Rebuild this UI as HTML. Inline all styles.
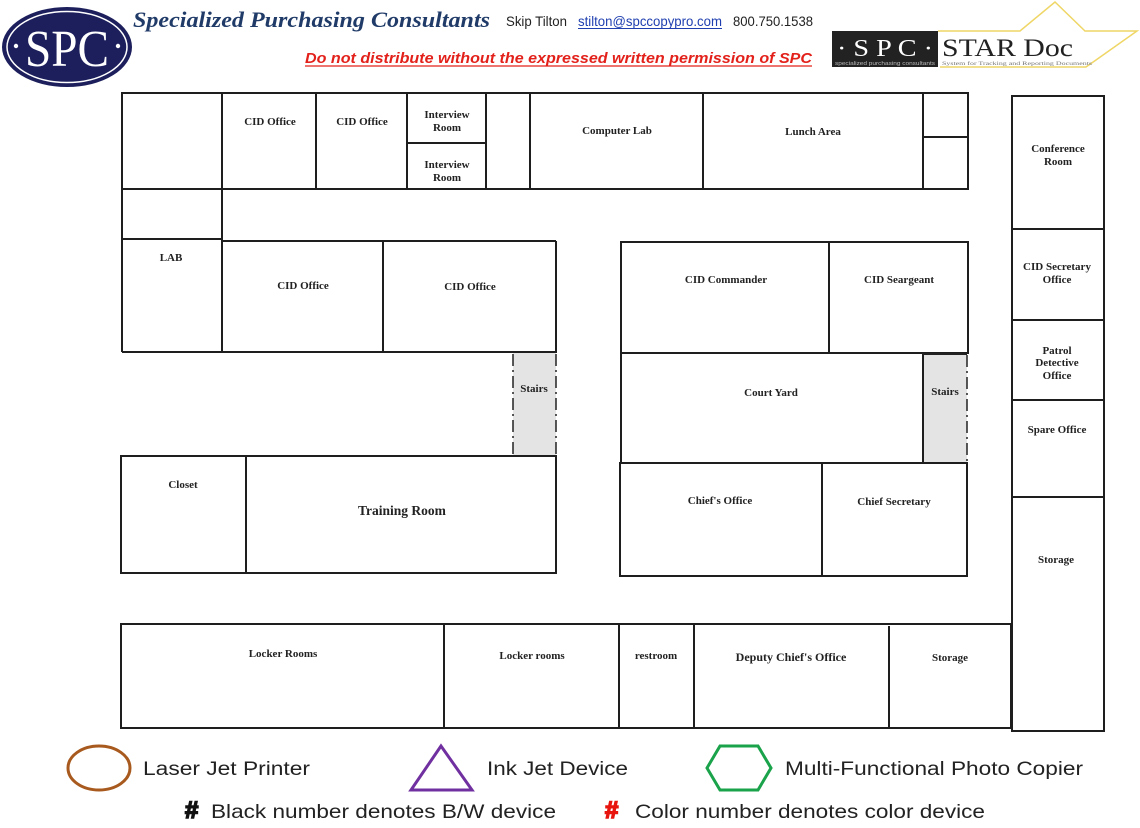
<!DOCTYPE html>
<html><head><meta charset="utf-8"><style>
html,body{margin:0;padding:0;background:#fff;}
svg{display:block;}
.r{font-family:"Liberation Serif",serif;font-weight:bold;font-size:11px;fill:#222;text-anchor:middle;}
.l{fill:none;stroke:#1e1e1e;stroke-width:2;}
.a{font-family:"Liberation Sans",Arial,sans-serif;fill:#222;}
</style></head><body>
<svg width="1140" height="828" viewBox="0 0 1140 828" xmlns="http://www.w3.org/2000/svg">
<rect width="1140" height="828" fill="#fff"/>
<ellipse cx="67" cy="47" rx="65" ry="40" fill="#1c1f5c"/>
<ellipse cx="67" cy="47" rx="60" ry="35.5" fill="none" stroke="#fff" stroke-width="1.5"/>
<text x="67" y="66" font-family="Liberation Serif,serif" font-size="52" fill="#fff" text-anchor="middle" textLength="84" lengthAdjust="spacingAndGlyphs">SPC</text>
<circle cx="16" cy="46" r="2.2" fill="#fff"/>
<circle cx="118" cy="46" r="2.2" fill="#fff"/>
<text x="133" y="27" font-family="Liberation Serif,serif" font-weight="bold" font-style="italic" font-size="22" fill="#203b68" textLength="357" lengthAdjust="spacingAndGlyphs">Specialized Purchasing Consultants</text>
<text x="506" y="26" class="a" font-size="14" textLength="61" lengthAdjust="spacingAndGlyphs">Skip Tilton</text>
<text x="578" y="26" font-family="Liberation Sans,Arial,sans-serif" font-size="14" fill="#1f3fb0" textLength="144" lengthAdjust="spacingAndGlyphs">stilton@spccopypro.com</text>
<line x1="578" y1="28.5" x2="722" y2="28.5" stroke="#1f3fb0" stroke-width="1"/>
<text x="733" y="26" class="a" font-size="14" textLength="80" lengthAdjust="spacingAndGlyphs">800.750.1538</text>
<text x="305" y="63" font-family="Liberation Sans,Arial,sans-serif" font-weight="bold" font-style="italic" font-size="15" fill="#e3211b" textLength="507" lengthAdjust="spacingAndGlyphs">Do not distribute without the expressed written permission of SPC</text>
<line x1="305" y1="66" x2="812" y2="66" stroke="#e3211b" stroke-width="1.2"/>
<polyline points="938,31 1020,31 1055,2 1085,31 1137,31 1096,60 1086,67 940,67" fill="none" stroke="#efd666" stroke-width="1.5"/>
<rect x="832" y="31" width="106" height="36" fill="#222"/>
<text x="885" y="56" font-family="Liberation Serif,serif" font-size="24" fill="#fff" text-anchor="middle" textLength="96" lengthAdjust="spacingAndGlyphs">· S P C ·</text>
<text x="885" y="65" font-family="Liberation Sans,sans-serif" font-size="5" fill="#bbb" text-anchor="middle" textLength="100" lengthAdjust="spacingAndGlyphs">specialized purchasing consultants</text>
<text x="942" y="56" font-family="Liberation Serif,serif" font-size="25" fill="#222" textLength="131" lengthAdjust="spacingAndGlyphs">STAR Doc</text>
<text x="942" y="65" font-family="Liberation Serif,serif" font-size="5" fill="#777" textLength="150" lengthAdjust="spacingAndGlyphs">System for Tracking and Reporting Documents</text>

<rect x="513" y="353" width="43" height="103" fill="#e4e4e4"/>
<rect x="923" y="354" width="44" height="109" fill="#e4e4e4"/>

<g class="l">
<rect x="122" y="93" width="846" height="96"/>
<line x1="222" y1="93" x2="222" y2="352"/>
<line x1="316" y1="93" x2="316" y2="189"/>
<line x1="407" y1="94" x2="407" y2="189"/>
<line x1="486" y1="94" x2="486" y2="189"/>
<line x1="530" y1="94" x2="530" y2="189"/>
<line x1="703" y1="94" x2="703" y2="190"/>
<line x1="923" y1="94" x2="923" y2="190"/>
<line x1="407" y1="143" x2="486" y2="143"/>
<line x1="923" y1="137" x2="968" y2="137"/>
<line x1="122" y1="189" x2="122" y2="352"/>
<line x1="122" y1="239" x2="222" y2="239"/>
<line x1="222" y1="241" x2="556" y2="241"/>
<line x1="383" y1="241" x2="383" y2="352"/>
<line x1="556" y1="241" x2="556" y2="353"/>
<line x1="122" y1="352" x2="556" y2="352"/>
<rect x="121" y="456" width="435" height="117"/>
<line x1="246" y1="456" x2="246" y2="573"/>
<rect x="621" y="242" width="347" height="111"/>
<line x1="829" y1="242" x2="829" y2="353"/>
<line x1="621" y1="353" x2="621" y2="463"/>
<line x1="621" y1="463" x2="967" y2="463"/>
<line x1="923" y1="354" x2="923" y2="463"/>
<rect x="620" y="463" width="347" height="113"/>
<line x1="822" y1="463" x2="822" y2="576"/>
<rect x="121" y="624" width="890" height="104"/>
<line x1="444" y1="624" x2="444" y2="728"/>
<line x1="619" y1="625" x2="619" y2="728"/>
<line x1="694" y1="625" x2="694" y2="728"/>
<line x1="889" y1="626" x2="889" y2="729"/>
<rect x="1012" y="96" width="92" height="635"/>
<line x1="1012" y1="229" x2="1104" y2="229"/>
<line x1="1012" y1="320" x2="1104" y2="320"/>
<line x1="1012" y1="400" x2="1104" y2="400"/>
<line x1="1012" y1="497" x2="1104" y2="497"/>
</g>
<g fill="none" stroke="#222" stroke-width="1.5" stroke-dasharray="12,4,2,4">
<line x1="513" y1="354" x2="513" y2="456"/>
<line x1="556" y1="354" x2="556" y2="456"/>
<line x1="967" y1="355" x2="967" y2="463"/>
</g>
<line x1="922" y1="354" x2="967" y2="354" stroke="#222" stroke-width="2"/>

<text class="r" x="270" y="125">CID Office</text>
<text class="r" x="362" y="125">CID Office</text>
<text class="r" x="447" y="118">Interview</text>
<text class="r" x="447" y="131">Room</text>
<text class="r" x="447" y="168">Interview</text>
<text class="r" x="447" y="181">Room</text>
<text class="r" x="617" y="134">Computer Lab</text>
<text class="r" x="813" y="135">Lunch Area</text>
<text class="r" x="1058" y="152">Conference</text>
<text class="r" x="1058" y="165">Room</text>
<text class="r" x="171" y="261">LAB</text>
<text class="r" x="303" y="289">CID Office</text>
<text class="r" x="470" y="290">CID Office</text>
<text class="r" x="726" y="283">CID Commander</text>
<text class="r" x="899" y="283">CID Seargeant</text>
<text class="r" x="1057" y="270">CID Secretary</text>
<text class="r" x="1057" y="283">Office</text>
<text class="r" x="1057" y="354">Patrol</text>
<text class="r" x="1057" y="366">Detective</text>
<text class="r" x="1057" y="379">Office</text>
<text class="r" x="534" y="392">Stairs</text>
<text class="r" x="771" y="396">Court Yard</text>
<text class="r" x="945" y="395">Stairs</text>
<text class="r" x="1057" y="433">Spare Office</text>
<text class="r" x="183" y="488">Closet</text>
<text class="r" x="402" y="515" style="font-size:13.5px">Training Room</text>
<text class="r" x="720" y="504">Chief's Office</text>
<text class="r" x="894" y="505">Chief Secretary</text>
<text class="r" x="1056" y="563">Storage</text>
<text class="r" x="283" y="657">Locker Rooms</text>
<text class="r" x="532" y="659">Locker rooms</text>
<text class="r" x="656" y="659">restroom</text>
<text class="r" x="791" y="661" style="font-size:12px">Deputy Chief's Office</text>
<text class="r" x="950" y="661">Storage</text>

<ellipse cx="99" cy="768" rx="31" ry="22" fill="none" stroke="#a85a1e" stroke-width="3"/>
<text x="143" y="775" class="a" font-size="19" textLength="167" lengthAdjust="spacingAndGlyphs">Laser Jet Printer</text>
<polygon points="441,746 411,790 472,790" fill="none" stroke="#7030a0" stroke-width="3"/>
<text x="487" y="775" class="a" font-size="19" textLength="141" lengthAdjust="spacingAndGlyphs">Ink Jet Device</text>
<polygon points="707,768 720,746 758,746 771,768 758,790 720,790" fill="none" stroke="#1aa34a" stroke-width="3"/>
<text x="785" y="775" class="a" font-size="19" textLength="298" lengthAdjust="spacingAndGlyphs">Multi-Functional Photo Copier</text>
<text x="185" y="818" font-family="Liberation Sans,sans-serif" font-weight="bold" font-size="24" fill="#111" stroke="#111" stroke-width="1.6">#</text>
<text x="211" y="818" class="a" font-size="19.5" textLength="345" lengthAdjust="spacingAndGlyphs">Black number denotes B/W device</text>
<text x="605" y="818" font-family="Liberation Sans,sans-serif" font-weight="bold" font-size="24" fill="#e8150f" stroke="#e8150f" stroke-width="1.6">#</text>
<text x="635" y="818" class="a" font-size="19.5" textLength="350" lengthAdjust="spacingAndGlyphs">Color number denotes color device</text>
</svg>
</body></html>
